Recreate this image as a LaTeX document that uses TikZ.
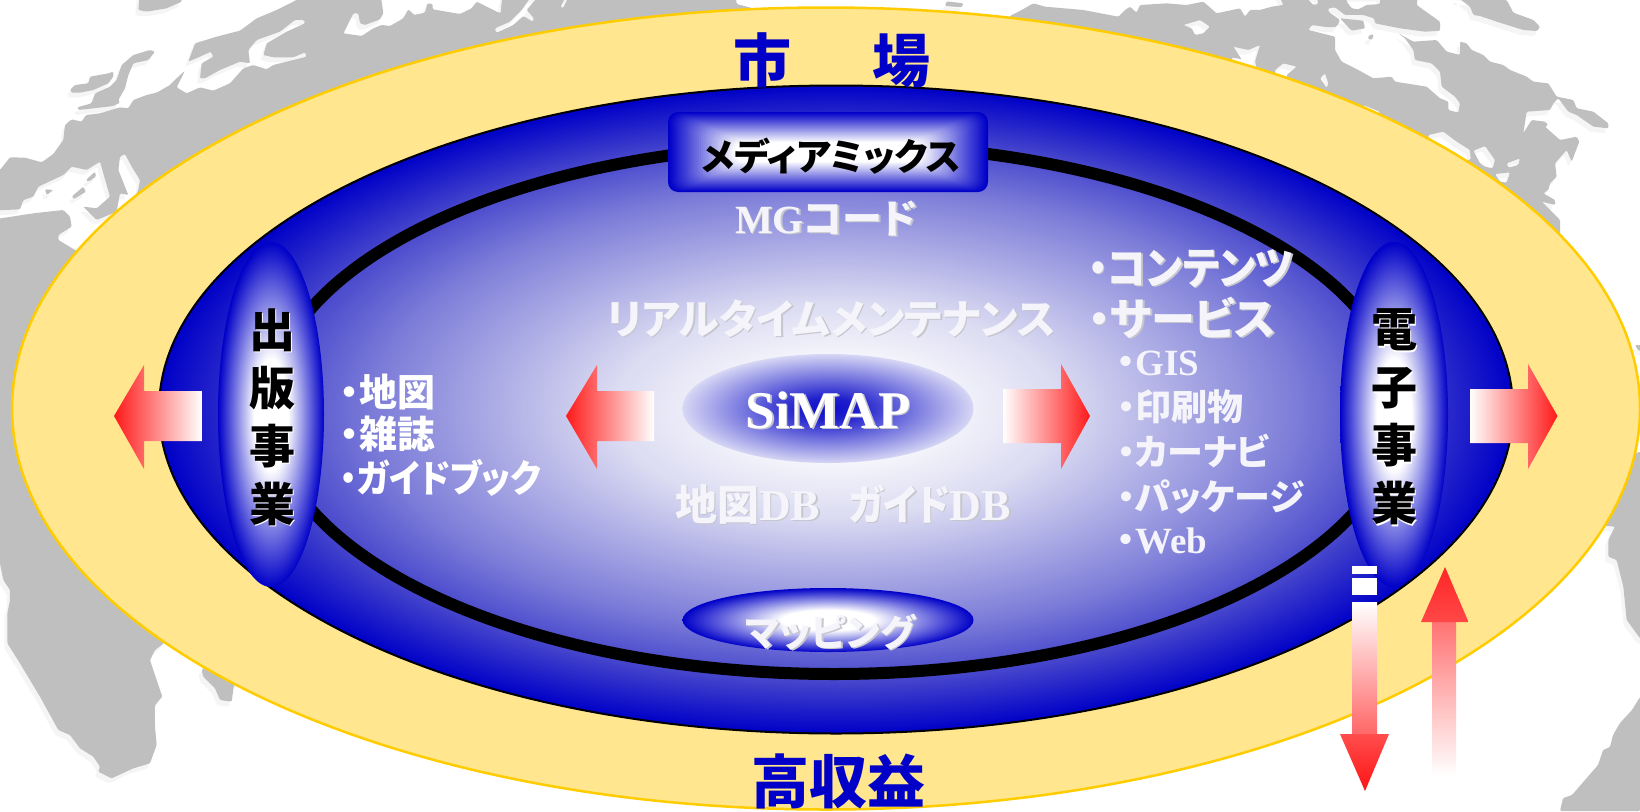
\documentclass[tikz,border=0pt]{standalone}
\usepackage{fontspec}
\usepackage{graphicx}
\setmainfont{Liberation Serif}
\newfontfamily\jp{Noto Sans CJK JP}[RawFeature={+palt}]
\newfontfamily\jpw{Noto Sans CJK JP}
\definecolor{bandfill}{HTML}{FFE68F}
\definecolor{bandline}{HTML}{FFCC00}
\definecolor{deep}{HTML}{0000C8}
\definecolor{mapgrey}{HTML}{BFBFBF}
\definecolor{mapshade}{HTML}{F5F5F5}
\definecolor{softwhite}{HTML}{F4F4FA}
\definecolor{softshade}{HTML}{C6C6CE}
\pgfdeclareradialshading{bigball}{\pgfpoint{0bp}{0bp}}{rgb(0bp)=(1,1,1); rgb(2.5bp)=(1,1,1); rgb(8.25bp)=(.86,.86,.95); rgb(17bp)=(.49,.49,.85); rgb(21bp)=(.27,.27,.8); rgb(25bp)=(0,0,.784); rgb(50bp)=(0,0,.784)}
\pgfdeclareradialshading{oval}{\pgfpoint{0bp}{0bp}}{rgb(0bp)=(1,1,1); rgb(8bp)=(1,1,1); rgb(25bp)=(0,0,.784); rgb(50bp)=(0,0,.784)}
\pgfdeclareradialshading{core}{\pgfpoint{0bp}{0bp}}{rgb(0bp)=(.05,.05,.8); rgb(5bp)=(.12,.12,.8); rgb(25bp)=(.84,.84,.96); rgb(50bp)=(.84,.84,.96)}
\newcommand\sized[1]{\fontsize{#1}{#1}\selectfont\bfseries}
\newcommand\shad[3]{\makebox[0pt][l]{\kern1.6pt\raisebox{-1.6pt}{\color{#2}#3}}{\color{#1}#3}}
\newcommand\nar[2]{\scalebox{#1}[1]{#2}}
\tikzset{
  z5/.style={scale=0.33333},
  z6/.style={shift={(1000,0)},scale=0.33333},
  z7/.style={shift={(1300,0)},scale=0.33333},
  z8/.style={shift={(0,500)},scale=0.33333},
  z9/.style={shift={(1480,330)},scale=0.33333},
  z10/.style={shift={(340,0)},scale=0.33333},
  label/.style={inner sep=0pt,outer sep=0pt,anchor=base},
  labelw/.style={inner sep=0pt,outer sep=0pt,anchor=base west},
  bulk/.style={rounded corners=1.2pt,even odd rule},
}
\newcommand\mappath{
 {[z5] (-60,510) -- (0,510) -- (30,472) -- (75,473) -- (125,487) -- (160,462) -- (190,420) -- (195,375) -- (215,358) -- (245,365) -- (258,345) -- (300,340) -- (360,322) -- (385,325) -- (400,300) -- (440,285) -- (470,278) -- (510,255) -- (535,230) -- (555,212) -- (530,262) -- (560,280) -- (600,262) -- (640,272) -- (690,250) -- (730,205) -- (760,195) -- (800,208) -- (820,195) -- (920,170) -- (915,157) -- (880,172) -- (820,172) -- (790,165) -- (800,130) -- (860,95) -- (915,70) -- (912,60) -- (885,60) -- (840,95) -- (770,120) -- (745,150) -- (750,190) -- (720,185) -- (660,210) -- (615,235) -- (600,235) -- (605,190) -- (640,170) -- (632,155) -- (600,170) -- (565,185) -- (585,130) -- (650,110) -- (720,92) -- (770,55) -- (830,30) -- (890,0) -- (890,-60)}
 {[z7] -- (360,-60) -- (350,15) -- (420,65) -- (420,92) -- (375,95) -- (300,85) -- (225,70) -- (222,55) -- (190,45) -- (135,45) -- (105,22) -- (85,25) -- (85,35) -- (120,60) -- (110,80) -- (85,82) -- (35,75) -- (25,90) -- (105,110) -- (105,150) -- (125,185) -- (175,210) -- (220,235) -- (275,230) -- (285,245) -- (380,260) -- (420,295) -- (445,305) -- (445,330) -- (475,338) -- (480,310) -- (465,290) -- (425,260) -- (420,215) -- (395,190) -- (345,180) -- (340,150) -- (315,115) -- (295,100) -- (340,125) -- (410,120) -- (440,155) -- (480,165) -- (480,125) -- (500,130) -- (515,150) -- (550,165) -- (570,185) -- (610,195) -- (630,210) -- (680,230) -- (700,245) -- (745,250) -- (770,290) -- (820,300) -- (830,325) -- (880,335) -- (925,370) -- (925,385) -- (880,380) -- (830,345) -- (805,335) -- (775,295) -- (760,310) -- (750,330) -- (680,335) -- (670,400) -- (660,415) -- (695,360) -- (735,365) -- (745,375) -- (735,380) -- (780,420) -- (830,410) -- (838,425) -- (815,485) -- (800,450) -- (765,490) -- (770,530) -- (750,550) -- (745,570) -- (730,580) -- (765,600) -- (765,615) -- (725,605) -- (780,660) -- (780,760)}
 -- (1500,400) -- (1300,500) -- (300,500)
 {[z8] -- (485,435) -- (465,450) -- (450,480) -- (470,540) -- (487,590) -- (465,615) -- (465,680) -- (470,735) -- (450,790) -- (400,805) -- (335,835) -- (295,815) -- (300,800) -- (280,770) -- (240,745) -- (210,705) -- (175,690) -- (120,590) -- (60,490) -- (22,430) -- (22,340) -- (30,300) -- (30,270) -- (10,240) -- (0,190) -- (-60,190)} -- cycle
 {[z5]
  (-30,632) -- (60,628) -- (70,600) -- (100,590) -- (115,560) -- (190,525) -- (215,500) -- (260,510) -- (300,485) -- (330,590) -- (290,625) -- (250,620) -- (290,660) -- (350,635) -- (360,580) -- (385,585) -- (355,510) -- (360,470) -- (375,462) -- (395,500) -- (420,540) -- (415,570) -- (405,590) -- (450,650) -- (300,790) -- (225,750) -- (175,720) -- (175,705) -- (215,680) -- (210,650) -- (190,630) -- (100,640) -- (-30,660) -- cycle
  (135,568) -- (160,570) -- (140,585) -- cycle
  (215,590) -- (250,560) -- (258,575) -- (222,597) -- cycle
  (258,540) -- (285,515) -- (288,530) -- (265,545) -- cycle
  (420,-30) -- (415,30) -- (440,35) -- (500,25) -- (545,5) -- (545,-30) -- cycle
  (210,270) -- (225,255) -- (265,250) -- (270,230) -- (325,220) -- (340,215) -- (340,230) -- (325,250) -- (280,270) -- (240,278) -- (215,278) -- cycle
  (465,155) -- (450,150) -- (400,165) -- (365,195) -- (350,240) -- (330,260) -- (285,280) -- (275,310) -- (232,322) -- (235,330) -- (280,325) -- (340,318) -- (360,308) -- (355,300) -- (375,265) -- (385,225) -- (400,190) -- (445,180) -- cycle
 }
 {[z10]
  (10,100) -- (65,108) -- (100,85) -- (125,75) -- (150,78) -- (190,55) -- (205,28) -- (222,45) -- (255,38) -- (262,10) -- (278,12) -- (278,28) -- (360,42) -- (395,25) -- (410,5) -- (470,35) -- (482,40) -- (485,5) -- (495,-30) -- (120,-30) -- (130,40) -- (120,58) -- (75,75) -- (60,70) -- (55,40) -- (40,40) -- cycle
  (465,90) -- (470,98) -- (520,75) -- (550,48) -- (578,65) -- (582,55) -- (560,30) -- (590,-5) -- (570,-5) -- (545,30) -- (510,65) -- (465,85) -- cycle
  (662,20) -- (668,25) -- (682,0) -- (675,-5) -- cycle
 }
 {[z6]
  (-795,-30) -- (-790,12) -- (-700,36) -- (-600,70) -- (0,100) -- (30,48) -- (65,30) -- (100,10) -- (135,20) -- (250,30) -- (355,50) -- (375,30) -- (390,20) -- (410,38) -- (420,15) -- (500,10) -- (560,15) -- (610,5) -- (650,40) -- (720,25) -- (735,50) -- (750,30) -- (780,30) -- (815,20) -- (850,15) -- (830,-30) -- cycle
  (-160,4) -- (-110,10) -- (-115,22) -- (-165,18) -- cycle
  (550,75) -- (600,60) -- (630,80) -- (610,100) -- (585,105) -- (575,85) -- cycle
  (700,140) -- (745,150) -- (780,135) -- (765,185) -- (770,205) -- (700,190) -- (695,172) -- (725,178) -- cycle
  (825,210) -- (850,190) -- (890,200) -- (860,225) -- (860,240) -- (825,225) -- cycle
  (960,235) -- (975,220) -- (985,250) -- (980,264) -- cycle
 }
 {[z7]
  (25,0) -- (40,15) -- (55,12) -- (50,-10) -- (25,-10) -- cycle
  (140,5) -- (155,25) -- (175,28) -- (200,15) -- (240,12) -- (240,-10) -- (140,-10) -- cycle
  (120,55) -- (190,62) -- (195,85) -- (155,92) -- cycle
  (205,108) -- (220,102) -- (218,118) -- (205,118) -- cycle
  (385,405) -- (430,395) -- (470,425) -- (510,450) -- (512,480) -- (450,480) -- (385,425) -- cycle
  (520,452) -- (555,438) -- (585,480) -- (578,505) -- (555,500) -- (540,490) -- cycle
  (620,490) -- (660,475) -- (655,495) -- (625,503) -- cycle
  (585,522) -- (630,517) -- (620,548) -- (600,545) -- cycle
  (190,315) -- (240,335) -- (230,350) -- (190,330) -- cycle
  (470,0) -- (620,0) -- (640,38) -- (700,60) -- (720,80) -- (712,93) -- (670,90) -- (590,65) -- (540,48) -- (520,45) -- (510,20) -- (470,-10) -- cycle
 }
 {[z8]
  (605,510) -- (610,530) -- (645,565) -- (660,600) -- (695,605) -- (702,555) -- (720,540) -- (640,480) -- cycle
 }
 {[z9]
  (350,400) -- (350,585) -- (405,590) -- (385,630) -- (385,680) -- (410,690) -- (430,770) -- (440,870) -- (480,925) -- (540,925) -- (540,350) -- cycle
  (465,45) -- (500,45) -- (500,62) -- (475,62) -- cycle
 }
}
\begin{document}
\begin{tikzpicture}[x=1pt,y=-1pt]
\useasboundingbox (0,0) rectangle (1640,811);
\fill[white] (0,0) rectangle (1640,811);
% map
\fill[mapshade,bulk,shift={(-3,5)}] \mappath;
\fill[mapgrey,bulk] \mappath;
\fill[mapgrey,rounded corners=1.2pt] (1640,697) -- (1632,710) -- (1620,723) -- (1613,735) -- (1610,747) -- (1603,750) -- (1598,765) -- (1572,795) -- (1563,798) -- (1560,811) -- (1640,811) -- cycle;
% market ring
\path[fill=bandfill,draw=bandline,line width=2.5pt] (826,408.5) ellipse [x radius=814pt,y radius=401pt];
% big ball
\shade[shading=bigball] (836,409.5) ellipse [x radius=677pt,y radius=324pt];
\draw[black,line width=2pt] (836,409.5) ellipse [x radius=677pt,y radius=324pt];
\draw[black,line width=12pt] (834,409) ellipse [x radius=565pt,y radius=265pt];
% media box
\foreach \i in {0,...,30}{
  \pgfmathsetmacro\mixv{100*\i/30}
  \fill[white!\mixv!deep,rounded corners=10pt] (668+2.2*\i,112+1.0*\i) rectangle (988-2.2*\i,192-1.0*\i);
}
% business ovals
\shade[shading=oval] (271,414.5) ellipse [x radius=53pt,y radius=172.5pt];
\shade[shading=oval] (1394,414.5) ellipse [x radius=54pt,y radius=172.5pt];
\shade[shading=oval] (828,620) ellipse [x radius=145.5pt,y radius=32pt];
\shade[shading=core] (828,408.5) ellipse [x radius=145.5pt,y radius=54.5pt];
% block arrows
\shade[left color=red!90!white,right color=white] (114,416) -- (144,365) -- (144,391) -- (202,391) -- (202,441) -- (144,441) -- (144,469) -- cycle;
\shade[left color=red!90!white,right color=white] (566,416) -- (597,365) -- (597,391) -- (654,391) -- (654,441) -- (597,441) -- (597,469) -- cycle;
\shade[right color=red!90!white,left color=white] (1090,416) -- (1061,364) -- (1061,389) -- (1003,389) -- (1003,443) -- (1061,443) -- (1061,469) -- cycle;
\shade[right color=red!90!white,left color=white] (1557.5,416) -- (1528,364) -- (1528,389) -- (1470,389) -- (1470,443) -- (1528,443) -- (1528,469) -- cycle;
% down arrow
\fill[white] (1352,566) rectangle (1377,574);
\fill[white] (1352,578) rectangle (1377,595);
\shade[top color=white,bottom color=red!60!white] (1352,602) rectangle (1377,735);
\shade[top color=red!70!white,bottom color=red!92!white] (1340,734) -- (1389,734) -- (1365,791) -- cycle;
% up arrow
\shade[top color=red!55!white,bottom color=white] (1432,622) rectangle (1456,776);
\shade[top color=red!85!white,bottom color=red!72!white] (1445,567) -- (1468.5,622) -- (1421,622) -- cycle;
% labels
\node[label,text=deep] (market) at (832,82) {\jp\sized{58}市\hspace{81pt}場};
\node[label,text=deep] (profit) at (838,803) {\jp\sized{58}高収益};
\node[label,text=black] (media) at (831.5,170) {\jp\sized{37}メディアミックス};
\node[label] (mg) at (826,233) {\sized{40}\shad{softwhite}{softshade}{MG{\jp コード}}};
\node[label] (rt) at (831,334) {\jp\sized{41}\shad{softwhite}{softshade}{リアルタイムメンテナンス}};
\node[label] (simap) at (828,428) {\sized{53}\shad{white}{softshade}{SiMAP}};
\node[labelw] (db1) at (675,520) {\sized{44}\shad{softwhite}{softshade}{{\jp\sized{42}地図}DB}};
\node[labelw] (db2) at (849,520) {\sized{44}\shad{softwhite}{softshade}{\nar{.88}{\jp\sized{42}ガイド}DB}};
\node[label] (mapping) at (830.5,646) {\jp\sized{37}\shad{softwhite}{softshade}{マッピング}};
\node[inner sep=0pt,align=center,font=\jpw\sized{46}] (pub) at (272,418) {\shad{black}{white}{出}\\[12pt]\shad{black}{white}{版}\\[12pt]\shad{black}{white}{事}\\[12pt]\shad{black}{white}{業}};
\node[inner sep=0pt,align=center,font=\jpw\sized{46}] (elec) at (1394,418) {\shad{black}{white}{電}\\[12pt]\shad{black}{white}{子}\\[12pt]\shad{black}{white}{事}\\[12pt]\shad{black}{white}{業}};
\node[labelw,text=white] (l1) at (340,406.5) {\jp\sized{38}・地図};
\node[labelw,text=white] (l2) at (340,448.5) {\jp\sized{38}・雑誌};
\node[labelw,text=white] (l3) at (340,492.5) {\jp\sized{38}\nar{.9}{・ガイドブック}};
\node[labelw] (r1) at (1088,284) {\jp\sized{44}\shad{softwhite}{softshade}{\nar{.9}{・コンテンツ}}};
\node[labelw] (r2) at (1088,335) {\jp\sized{44}\shad{softwhite}{softshade}{・サービス}};
\node[labelw,text=softwhite] (s1) at (1117,375) {\sized{37}{\jp ・}GIS};
\node[labelw,text=softwhite] (s2) at (1117,420) {\jp\sized{36}・印刷物};
\node[labelw,text=softwhite] (s3) at (1117,465) {\jp\sized{36}・カーナビ};
\node[labelw,text=softwhite] (s4) at (1117,510) {\jp\sized{36}・パッケージ};
\node[labelw,text=softwhite] (s5) at (1117,553) {\sized{37}{\jp ・}Web};
\end{tikzpicture}
\end{document}
